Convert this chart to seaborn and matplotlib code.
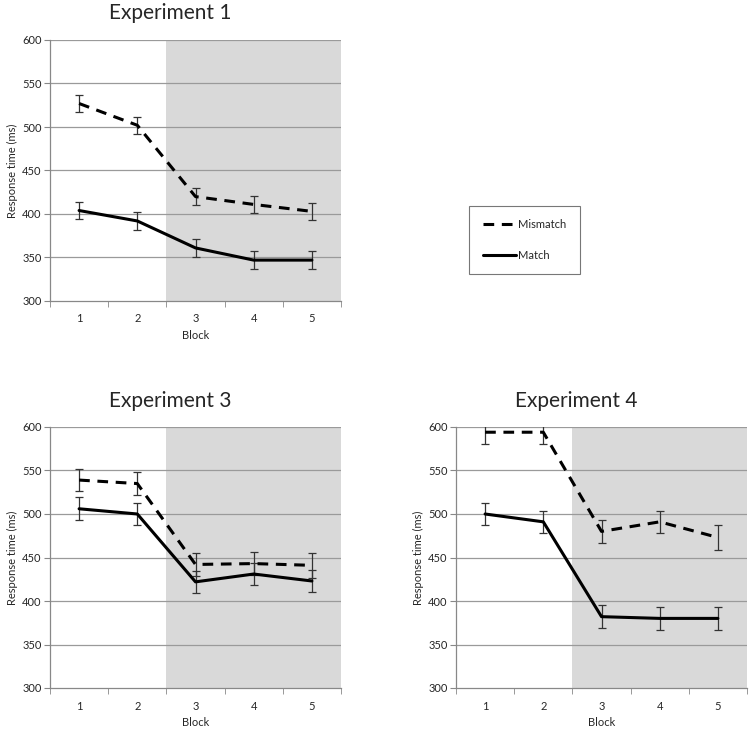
import numpy as np
import pandas as pd
import matplotlib
matplotlib.use("Agg")
import matplotlib.pyplot as plt
import seaborn as sns

# Values
blocks = [1, 2, 3, 4, 5]

exp1_mismatch = [527, 502, 420, 411, 403]
exp1_mismatch_err = [10, 10, 10, 10, 10]
exp1_match = [404, 392, 361, 347, 347]
exp1_match_err = [10, 10, 10, 10, 10]

exp3_mismatch = [539, 535, 442, 443, 441]
exp3_mismatch_err = [13, 13, 13, 13, 14]
exp3_match = [506, 500, 422, 431, 423]
exp3_match_err = [13, 13, 13, 13, 13]

exp4_mismatch = [594, 594, 480, 491, 473]
exp4_mismatch_err = [13, 13, 13, 13, 14]
exp4_match = [500, 491, 382, 380, 380]
exp4_match_err = [13, 13, 13, 13, 13]

titles = ["Experiment 1", "Experiment 3", "Experiment 4"]
conditions = ["Mismatch", "Match"]

sns.set_style("white")
plt.rcParams['font.family'] = ['Lato', 'DejaVu Sans']

fig = plt.figure(figsize=(7.56, 7.31), dpi=100)
W, H = 756, 731


def px_axes(x0, y0, x1, y1):
    return fig.add_axes([x0 / W, 1 - y1 / H, (x1 - x0) / W, (y1 - y0) / H])


def draw_panel(ax, title, title_x, title_y, mm, mm_err, m, m_err):
    df = pd.DataFrame({
        "Block": blocks * 2,
        "RT": mm + m,
        "Condition": ["Mismatch"] * 5 + ["Match"] * 5,
    })
    ax.axvspan(2.5, 5.5, color="#d9d9d9", lw=0, zorder=0)
    for v in range(350, 601, 50):
        ax.axhline(v, color="#9a9a9a", lw=0.9, zorder=1)
    ax.errorbar(blocks, mm, yerr=mm_err, fmt="none", ecolor="#333333",
                elinewidth=0.9, capsize=3, capthick=0.9, zorder=3)
    ax.errorbar(blocks, m, yerr=m_err, fmt="none", ecolor="#333333",
                elinewidth=0.9, capsize=3, capthick=0.9, zorder=3)
    sns.lineplot(data=df, x="Block", y="RT", style="Condition",
                 style_order=conditions, dashes={"Mismatch": (3.5, 2.5), "Match": ""},
                 color="black", lw=2.2, ax=ax, legend=False, zorder=4)
    ax.set_xlim(0.5, 5.5)
    ax.set_ylim(300, 600)
    ax.set_xticks(blocks)
    ax.set_xticks([0.5, 1.5, 2.5, 3.5, 4.5, 5.5], minor=True)
    ax.set_yticks(range(300, 601, 50))
    ax.tick_params(axis="x", which="major", length=0, labelsize=8, pad=9)
    ax.tick_params(axis="x", which="minor", length=4, color="#888888", direction="out",
                   bottom=True)
    ax.tick_params(axis="y", length=4, color="#888888", direction="out", labelsize=8,
                   left=True, pad=2)
    for s in ["top", "right"]:
        ax.spines[s].set_visible(False)
    for s in ["left", "bottom"]:
        ax.spines[s].set_color("#888888")
        ax.spines[s].set_linewidth(0.9)
    ax.set_xlabel("Block", fontsize=8, labelpad=4)
    ax.set_ylabel("Response time (ms)", fontsize=8, labelpad=3)
    fig.text(title_x / W, 1 - title_y / H, title, ha="center", va="center", fontsize=15)


ax1 = px_axes(50, 40, 341, 301)
draw_panel(ax1, titles[0], 170, 13, exp1_mismatch, exp1_mismatch_err, exp1_match, exp1_match_err)

ax3 = px_axes(50, 427, 341, 688)
draw_panel(ax3, titles[1], 170, 401, exp3_mismatch, exp3_mismatch_err, exp3_match, exp3_match_err)

ax4 = px_axes(456, 427, 747, 688)
draw_panel(ax4, titles[2], 576, 401, exp4_mismatch, exp4_mismatch_err, exp4_match, exp4_match_err)

# legend
h_mm = plt.Line2D([], [], color="black", lw=2.2, dashes=(3.5, 2.5))
h_m = plt.Line2D([], [], color="black", lw=2.2)
leg = fig.legend([h_mm, h_m], conditions, loc="center",
                 bbox_to_anchor=(524.5 / W, 1 - 240 / H), fontsize=8,
                 frameon=True, fancybox=False, edgecolor="#555555",
                 handlelength=3.0, handletextpad=0.2, labelspacing=1.8,
                 borderpad=1.2, borderaxespad=0)
leg.get_frame().set_linewidth(0.8)

fig.savefig("out.png", dpi=100)
